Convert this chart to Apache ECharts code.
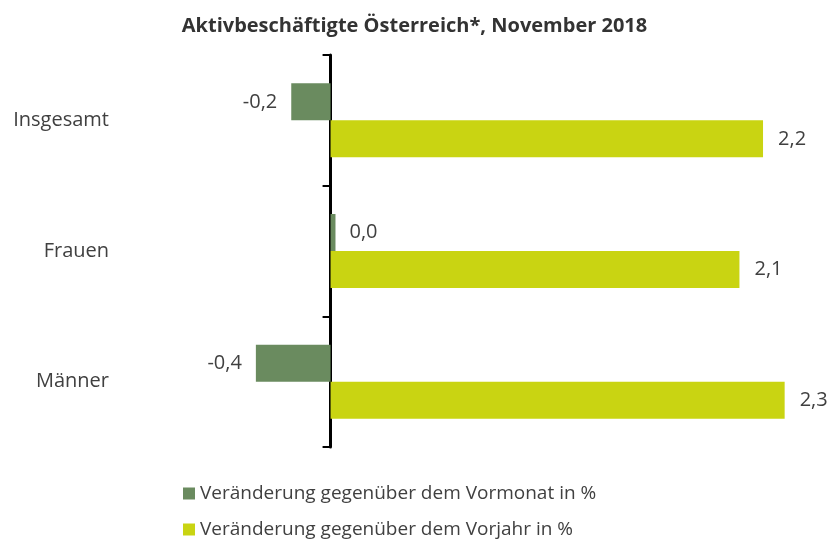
<!DOCTYPE html>
<html>
<head>
<meta charset="utf-8">
<script src="https://cdn.jsdelivr.net/npm/echarts@6/dist/echarts.min.js"></script>
<style>
  html, body { margin: 0; padding: 0; background: #fff; }
  #chart { width: 829px; height: 541px; }
</style>
</head>
<body>
<div id="chart"></div>
<script>
// categories, top to bottom
var categories = ['Insgesamt', 'Frauen', 'Männer']
// Veränderung gegenüber dem Vormonat in %
var vormonat = [-0.2, 0.025, -0.38]
// Veränderung gegenüber dem Vorjahr in %
var vorjahr = [2.2, 2.08, 2.31]

var seriesNames = ['Veränderung gegenüber dem Vormonat in %', 'Veränderung gegenüber dem Vorjahr in %']
var colors = ['#6a8b5f', '#c9d412']
var fontFamily = '"Open Sans", sans-serif'
var textColor = '#404040'

function fmt (p) {
  return p.value.toFixed(1).replace('.', ',')
}

// negative values get their label on the left side of the bar
function withLabelSide (arr) {
  return arr.map(function (v) {
    return { value: v, label: { position: v < 0 ? 'left' : 'right' } }
  })
}

var legendText = { fontFamily: fontFamily, fontSize: 19, color: textColor }

var chart = echarts.init(document.getElementById('chart'))
chart.setOption({
  animation: false,
  color: colors,
  textStyle: { fontFamily: fontFamily },
  title: {
    text: 'Aktivbeschäftigte Österreich*, November 2018',
    left: 'center',
    top: 11,
    textStyle: { fontFamily: fontFamily, fontSize: 20, fontWeight: 'bold', color: '#333' }
  },
  legend: [
    {
      left: 178,
      top: 479,
      icon: 'rect',
      itemWidth: 12,
      itemHeight: 12,
      textStyle: legendText,
      data: [seriesNames[0]]
    },
    {
      left: 178,
      top: 515,
      icon: 'rect',
      itemWidth: 12,
      itemHeight: 12,
      textStyle: legendText,
      data: [seriesNames[1]]
    }
  ],
  grid: { left: 134, width: 688, top: 55, height: 392 },
  xAxis: {
    type: 'value',
    min: -1,
    max: 2.5,
    show: false
  },
  yAxis: [
    {
      type: 'category',
      data: categories,
      inverse: true,
      axisLine: { show: true, lineStyle: { color: '#000', width: 3 } },
      axisTick: { show: true, length: 8, lineStyle: { color: '#000', width: 2 } },
      axisLabel: { show: false }
    },
    {
      type: 'category',
      data: categories,
      inverse: true,
      position: 'left',
      axisLine: { show: false, onZero: false },
      axisTick: { show: false },
      axisLabel: { margin: 25, fontFamily: fontFamily, fontSize: 20, color: textColor }
    }
  ],
  series: [
    {
      name: seriesNames[0],
      type: 'bar',
      data: withLabelSide(vormonat),
      barWidth: 37,
      barGap: '0%',
      label: { show: true, distance: 14, formatter: fmt, fontSize: 20, color: textColor, fontFamily: fontFamily }
    },
    {
      name: seriesNames[1],
      type: 'bar',
      data: vorjahr,
      barWidth: 37,
      barGap: '0%',
      label: { show: true, position: 'right', distance: 15, formatter: fmt, fontSize: 20, color: textColor, fontFamily: fontFamily }
    }
  ]
})
</script>
</body>
</html>
